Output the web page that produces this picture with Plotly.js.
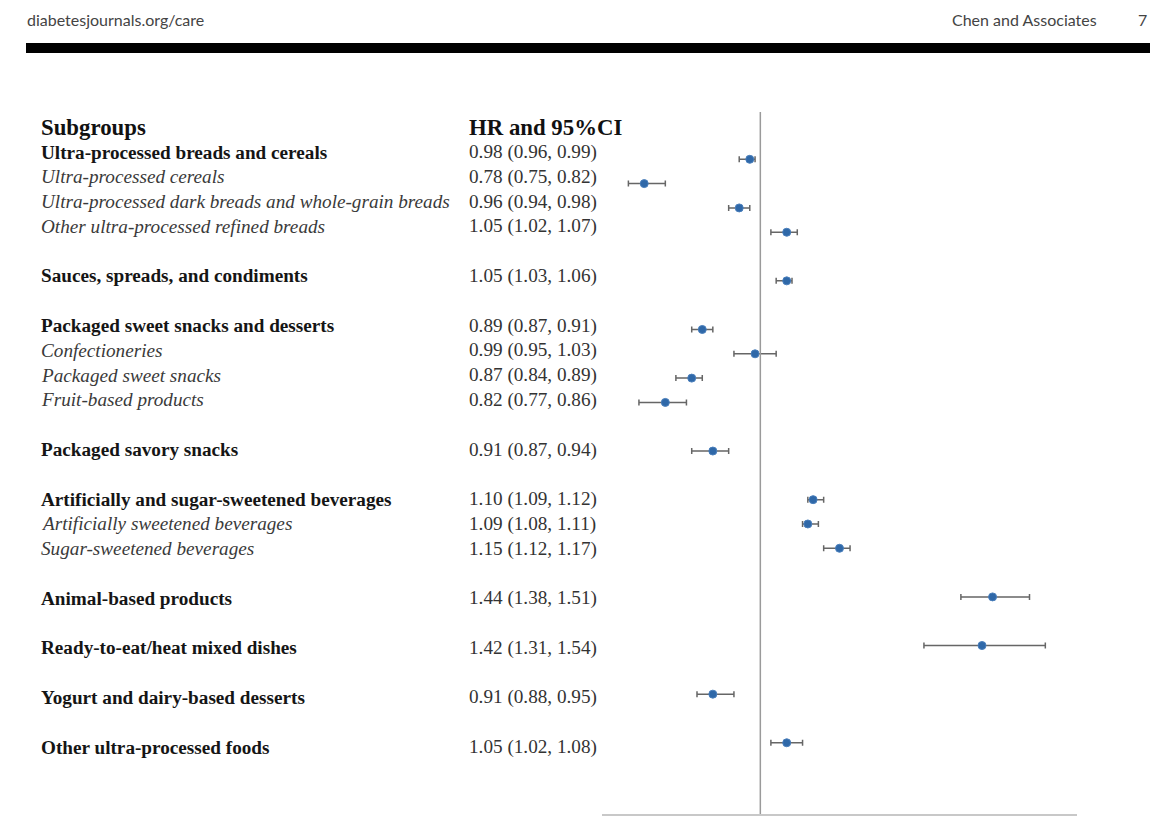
<!DOCTYPE html>
<html>
<head>
<meta charset="utf-8">
<script src="https://cdn.plot.ly/plotly-3.0.1.min.js"></script>
<style>
  html, body { margin: 0; padding: 0; background: #ffffff; }
  #chart { width: 1170px; height: 816px; }
</style>
</head>
<body>
<div id="chart"></div>
<script>
// Subgroups of ultra-processed food intake: hazard ratios with 95% CI
const subgroups = [
  "Ultra-processed breads and cereals",
  "Ultra-processed cereals",
  "Ultra-processed dark breads and whole-grain breads",
  "Other ultra-processed refined breads",
  "Sauces, spreads, and condiments",
  "Packaged sweet snacks and desserts",
  "Confectioneries",
  "Packaged sweet snacks",
  "Fruit-based products",
  "Packaged savory snacks",
  "Artificially and sugar-sweetened beverages",
  "Artificially sweetened beverages",
  "Sugar-sweetened beverages",
  "Animal-based products",
  "Ready-to-eat/heat mixed dishes",
  "Yogurt and dairy-based desserts",
  "Other ultra-processed foods"
];
// true = main food group (bold), false = component (italic)
const isMainGroup = [true, false, false, false, true, true, false, false, false,
                     true, true, false, false, true, true, true, true];
const hr      = [0.98, 0.78, 0.96, 1.05, 1.05, 0.89, 0.99, 0.87, 0.82, 0.91, 1.10, 1.09, 1.15, 1.44, 1.42, 0.91, 1.05];
const ciLower = [0.96, 0.75, 0.94, 1.02, 1.03, 0.87, 0.95, 0.84, 0.77, 0.87, 1.09, 1.08, 1.12, 1.38, 1.31, 0.88, 1.02];
const ciUpper = [0.99, 0.82, 0.98, 1.07, 1.06, 0.91, 1.03, 0.89, 0.86, 0.94, 1.12, 1.11, 1.17, 1.51, 1.54, 0.95, 1.08];
const columnHeaders = ["Subgroups", "HR and 95%CI"];
const pageLeft = "diabetesjournals.org/care";
const pageAuthors = "Chen and Associates";
const pageNumber = "7";

// Row index for each subgroup: a blank row before every new main group
const rowIndex = [];
let r = -1;
subgroups.forEach((_, i) => {
  r += (isMainGroup[i] && i > 0) ? 2 : 1;
  rowIndex.push(r);
});

const fmt = v => v.toFixed(2);
const hrLabels = hr.map((v, i) => `${fmt(v)} (${fmt(ciLower[i])}, ${fmt(ciUpper[i])})`);

// Page geometry (pixels) -> paper coordinates
const W = 1170, H = 816;
const plotL = 602, plotR = 1077, plotT = 112, plotB = 814;
const px = x => (x - plotL) / (plotR - plotL);
const py = y => (plotB - y) / (plotB - plotT);

const serif = "Liberation Serif, Times New Roman, serif";
const bodySize = 19.2;
const annotations = [];

// Column headers
annotations.push({
  xref: "paper", yref: "y2", x: px(39), y: -1, xanchor: "left", yanchor: "middle",
  text: "<b>" + columnHeaders[0] + "</b>", showarrow: false,
  font: { family: serif, size: 22.8, color: "#111111" }
});
annotations.push({
  xref: "paper", yref: "y2", x: px(467), y: -1, xanchor: "left", yanchor: "middle",
  text: "<b>" + columnHeaders[1] + "</b>", showarrow: false,
  font: { family: serif, size: 22.8, color: "#111111" }
});

// Subgroup names and HR text
subgroups.forEach((name, i) => {
  annotations.push({
    xref: "paper", yref: "y2", x: px(39), y: rowIndex[i], xanchor: "left", yanchor: "middle",
    text: isMainGroup[i] ? "<b>" + name + "</b>" : "<i>" + name + "</i>",
    showarrow: false,
    font: { family: serif, size: bodySize, color: isMainGroup[i] ? "#151515" : "#3a3a3a" }
  });
  annotations.push({
    xref: "paper", yref: "y2", x: px(467), y: rowIndex[i], xanchor: "left", yanchor: "middle",
    text: hrLabels[i], showarrow: false,
    font: { family: serif, size: bodySize, color: "#333333" }
  });
});

// Running page header
const sans = "Lato, Open Sans, sans-serif";
annotations.push({
  xref: "paper", yref: "paper", x: px(25), y: py(19), xanchor: "left", yanchor: "middle",
  text: pageLeft, showarrow: false, font: { family: sans, size: 16, color: "#444444" }
});
annotations.push({
  xref: "paper", yref: "paper", x: px(1099), y: py(19), xanchor: "right", yanchor: "middle",
  text: pageAuthors, showarrow: false, font: { family: sans, size: 16, color: "#444444" }
});
annotations.push({
  xref: "paper", yref: "paper", x: px(1149), y: py(19), xanchor: "right", yanchor: "middle",
  text: pageNumber, showarrow: false, font: { family: sans, size: 16, color: "#444444" }
});

const shapes = [
  // heavy rule under the running header
  { type: "rect", xref: "paper", yref: "paper", x0: px(26), x1: px(1150), y0: py(53), y1: py(43),
    fillcolor: "#000000", line: { width: 0 } },
  // line of no effect, HR = 1
  { type: "line", xref: "x", yref: "paper", x0: 1, x1: 1, y0: 0, y1: 1,
    line: { color: "#9a9a9a", width: 1.5 } }
];

const trace = {
  type: "scatter",
  mode: "markers",
  x: hr,
  y: rowIndex,
  xaxis: "x",
  yaxis: "y",
  marker: { color: "#2f68a8", size: 8, line: { color: "#4a7fbc", width: 1 } },
  error_x: {
    type: "data", symmetric: false,
    array: ciUpper.map((u, i) => u - hr[i]),
    arrayminus: hr.map((v, i) => v - ciLower[i]),
    color: "#666666", thickness: 1.5, width: 3
  },
  hoverinfo: "skip",
  showlegend: false
};

// invisible trace anchoring the text-row axis
const textAxisTrace = {
  type: "scatter", mode: "markers", x: [1], y: [0], xaxis: "x", yaxis: "y2",
  marker: { opacity: 0 }, hoverinfo: "skip", showlegend: false
};

const layout = {
  width: W, height: H,
  margin: { l: plotL, r: W - plotR, t: plotT, b: H - plotB, pad: 0 },
  paper_bgcolor: "#ffffff",
  plot_bgcolor: "#ffffff",
  xaxis: {
    range: [0.7, 1.6], showgrid: false, zeroline: false, showticklabels: false,
    ticks: "", showline: true, linecolor: "#c8c8c8", linewidth: 1.5, fixedrange: true
  },
  yaxis: {
    range: [26.93, -1.946], showgrid: false, zeroline: false, showticklabels: false,
    ticks: "", showline: false, fixedrange: true
  },
  yaxis2: {
    overlaying: "y", range: [26.70, -1.6136], showgrid: false, zeroline: false,
    showticklabels: false, ticks: "", showline: false, fixedrange: true
  },
  annotations: annotations,
  shapes: shapes
};

Plotly.newPlot("chart", [textAxisTrace, trace], layout, { staticPlot: true, displayModeBar: false });
</script>
</body>
</html>
